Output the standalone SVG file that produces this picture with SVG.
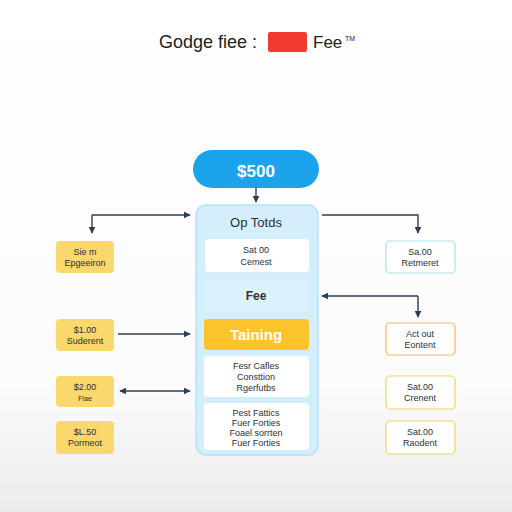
<svg xmlns="http://www.w3.org/2000/svg" width="512" height="512" viewBox="0 0 512 512">
<defs>
<linearGradient id="bg" x1="0" y1="0" x2="0" y2="1">
<stop offset="0" stop-color="#ffffff"/>
<stop offset="0.75" stop-color="#fbfbfb"/>
<stop offset="1" stop-color="#ececec"/>
</linearGradient>
<marker id="ah" viewBox="0 0 10 10" refX="9" refY="5" markerWidth="7" markerHeight="7" orient="auto-start-reverse" markerUnits="userSpaceOnUse">
<path d="M0,0 L10,5 L0,10 z" fill="#2c3e56"/>
</marker>
<style>
text{font-family:"Liberation Sans","DejaVu Sans",sans-serif;text-anchor:middle;fill:#2a2f36}
.s{font-size:9px}
.con{fill:none;stroke:#2c3e56;stroke-width:1.4}
.yl{fill:#fbd86b}
.wb{fill:#ffffff}
</style>
</defs>
<rect width="512" height="512" fill="url(#bg)"/>
<g id="title">
<text x="159" y="48" style="font-size:18px;fill:#222;text-anchor:start">Godge fiee :</text>
<rect x="268" y="32" width="39" height="20" rx="2" fill="#f03a32"/>
<text x="313" y="48" style="font-size:17px;fill:#222;text-anchor:start">Fee</text>
<text x="345" y="41" style="font-size:7px;fill:#222;text-anchor:start">TM</text>
</g>
<g id="connectors">
<path class="con" d="M256,188 V202" marker-end="url(#ah)"/>
<path class="con" d="M92,215 H190" marker-end="url(#ah)"/>
<path class="con" d="M92,215 V233" marker-end="url(#ah)"/>
<path class="con" d="M322,215 H418 V233" marker-end="url(#ah)"/>
<path class="con" d="M418,296 H322" marker-end="url(#ah)"/>
<path class="con" d="M418,296 V317" marker-end="url(#ah)"/>
<path class="con" d="M118,334 H190" marker-end="url(#ah)"/>
<path class="con" d="M120,391 H190" marker-start="url(#ah)" marker-end="url(#ah)"/>
</g>
<g id="top">
<rect x="193" y="150" width="126" height="38" rx="19" fill="#1ba3ec"/>
<text x="256" y="177" style="font-size:17px;font-weight:bold;fill:#fff">$500</text>
</g>
<g id="container">
<rect x="196" y="205" width="122" height="250" rx="10" fill="#d5eefb" stroke="#b5e2f6" stroke-width="1.5"/>
<text x="256" y="227" style="font-size:13px">Op Totds</text>
</g>
<g id="inner1">
<rect x="205" y="239" width="104" height="33" rx="4" class="wb"/>
<text x="256" y="253" class="s">Sat 00</text>
<text x="256" y="265" class="s">Cemest</text>
</g>
<g id="inner2">
<rect x="204" y="280" width="105" height="32" rx="4" fill="#dcf1fc"/>
<text x="256" y="300" style="font-size:12px;font-weight:bold;fill:#333">Fee</text>
</g>
<g id="inner3">
<rect x="204" y="319" width="105" height="31" rx="4" fill="#fbc42d"/>
<text x="256" y="340" style="font-size:15px;font-weight:bold;fill:#fff">Taining</text>
</g>
<g id="inner4">
<rect x="204" y="356" width="105" height="41" rx="4" class="wb"/>
<text x="256" y="369" class="s">Fesr Cafles</text>
<text x="256" y="380" class="s">Consttion</text>
<text x="256" y="391" class="s">Rgerfutbs</text>
</g>
<g id="inner5">
<rect x="204" y="403" width="105" height="47" rx="4" class="wb"/>
<text x="256" y="416" class="s">Pest Fattics</text>
<text x="256" y="426" class="s">Fuer Forties</text>
<text x="256" y="436" class="s">Foael sorrten</text>
<text x="256" y="446" class="s">Fuer Forties</text>
</g>
<g id="left1">
<rect x="56" y="241" width="58" height="32" rx="4" class="yl"/>
<text x="85" y="255" class="s">Sie m</text>
<text x="85" y="266" class="s">Epgeeiron</text>
</g>
<g id="left2">
<rect x="56" y="319" width="58" height="32" rx="4" class="yl"/>
<text x="85" y="333" class="s">$1.00</text>
<text x="85" y="344" class="s">Suderent</text>
</g>
<g id="left3">
<rect x="56" y="376" width="58" height="31" rx="4" class="yl"/>
<text x="85" y="390" class="s">$2.00</text>
<text x="85" y="401" style="font-size:7px">Fiae</text>
</g>
<g id="left4">
<rect x="56" y="421" width="58" height="33" rx="4" class="yl"/>
<text x="85" y="435" class="s">$L.50</text>
<text x="85" y="446" class="s">Pormeot</text>
</g>
<g id="right1">
<rect x="386" y="241" width="69" height="32" rx="4" class="wb" stroke="#a9e0ee" stroke-width="1.2"/>
<text x="420" y="255" class="s">Sa.00</text>
<text x="420" y="266" class="s">Retmeret</text>
</g>
<g id="right2">
<rect x="386" y="323" width="69" height="32" rx="4" class="wb" stroke="#f0b46a" stroke-width="1.2"/>
<text x="420" y="337" class="s">Act out</text>
<text x="420" y="348" class="s">Eontent</text>
</g>
<g id="right3">
<rect x="386" y="376" width="69" height="33" rx="4" class="wb" stroke="#f2d26a" stroke-width="1.2"/>
<text x="420" y="390" class="s">Sat.00</text>
<text x="420" y="401" class="s">Crenent</text>
</g>
<g id="right4">
<rect x="386" y="421" width="69" height="33" rx="4" class="wb" stroke="#f2d26a" stroke-width="1.2"/>
<text x="420" y="435" class="s">Sat.00</text>
<text x="420" y="446" class="s">Raodent</text>
</g>
</svg>
